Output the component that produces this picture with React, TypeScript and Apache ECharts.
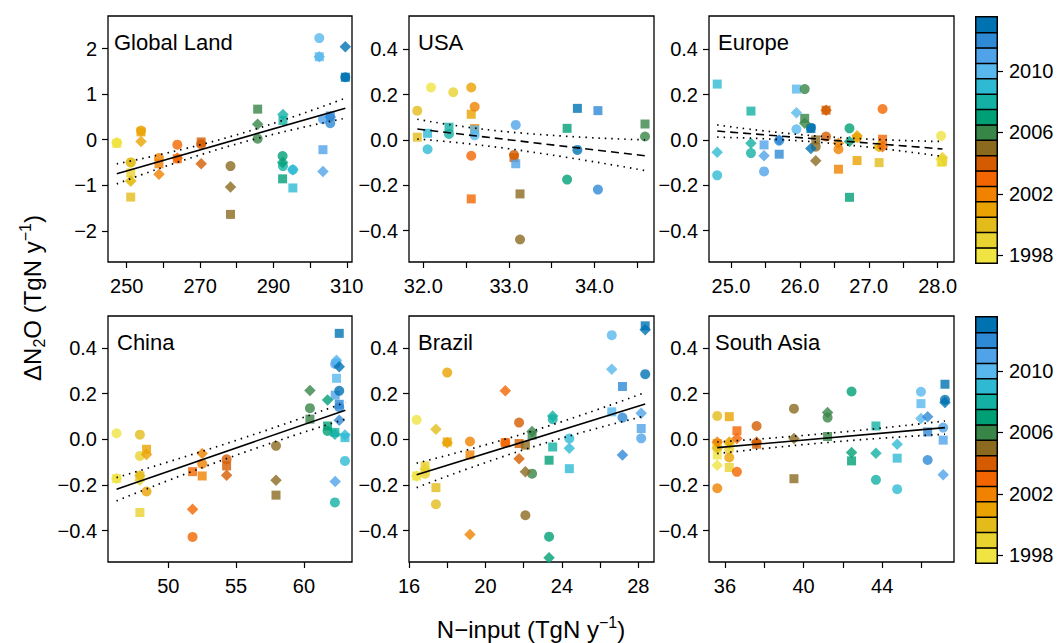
import React, { useEffect, useRef } from "react";
import * as echarts from "echarts";

const FONT = "'Liberation Sans', Arial, Helvetica, sans-serif";

const years = [1998, 1999, 2000, 2001, 2002, 2003, 2004, 2005, 2006, 2007, 2008, 2009, 2010, 2011, 2012, 2013];
const yearColors = ["#f0e442", "#e8d230", "#e3bb1a", "#e9a200", "#f08200", "#f26500", "#d45b00", "#8b6a1f", "#388548", "#00a077", "#13b0a4", "#2fbad4", "#58b8ee", "#50a2e9", "#2f8ad6", "#0072b2"];
const colorbarLabels = ["1998", "2002", "2006", "2010"];

// Global Land
const glX = [247.3, 251.1, 251.1, 253.9, 258.8, 263.8, 270.3, 278.3, 285.7, 292.5, 292.6, 295.3, 302.5, 303.5, 305.5, 309.6];
const glCircle = [-0.07, -0.5, -0.5, 0.2, -0.4, -0.11, -0.1, -0.58, 0.02, -0.36, -0.58, -0.66, 2.23, 0.45, 0.36, 1.37];
const glSquare = [-0.08, -0.73, -1.26, 0.17, -0.53, -0.42, -0.05, -1.64, 0.67, -0.86, 0.42, -1.06, 1.82, -0.22, 0.52, 1.37];
const glDiamond = [-0.06, -0.91, -0.91, -0.04, -0.76, -0.4, -0.53, -1.04, 0.34, -0.5, 0.55, -0.66, 1.82, -0.7, 0.5, 2.04];
const glFitX = [247.3, 309.6];
const glFitY = [-0.75, 0.69];
const glBandX = [247.3, 278, 309.6];
const glUpper = [-0.53, 0.06, 0.91];
const glLower = [-0.97, -0.14, 0.47];

// USA
const usX = [32.09, 32.35, 31.93, 32.56, 32.6, 32.56, 33.06, 33.13, 34.59, 33.68, 32.3, 32.05, 32.6, 33.08, 34.04, 33.8];
const usCircle = [0.231, 0.21, 0.129, 0.231, 0.146, -0.07, -0.066, -0.439, 0.015, -0.175, 0.026, -0.041, 0.02, 0.066, -0.219, -0.044];
const usSquare = [null, null, 0.012, 0.113, 0.05, -0.26, -0.078, -0.238, 0.07, 0.051, 0.056, 0.029, 0.044, -0.105, 0.129, 0.139];
const usDiamond = [null, null, null, null, null, null, null, null, null, null, null, null, null, null, null, null];
const usFitX = [31.93, 34.59];
const usFitY = [0.048, -0.07];
const usBandX = [31.93, 33.0, 34.59];
const usUpper = [0.091, 0.035, 0.0];
const usLower = [0.004, -0.039, -0.135];

// Europe
const euX = [28.05, 28.07, 27.15, 26.83, 26.56, 27.2, 26.38, 26.23, 26.07, 26.72, 25.29, 24.8, 25.95, 25.48, 25.7, 26.16];
const euCircle = [0.018, -0.09, -0.03, 0.01, -0.041, 0.136, 0.015, -0.03, 0.224, 0.051, -0.058, -0.156, 0.047, -0.139, -0.003, 0.054];
const euSquare = [-0.099, -0.095, -0.1, -0.091, -0.129, 0.003, 0.131, 0.0, 0.095, -0.253, 0.127, 0.246, 0.224, -0.022, -0.063, 0.05];
const euDiamond = [-0.085, -0.077, -0.03, 0.018, -0.015, -0.03, 0.131, -0.092, 0.073, -0.007, -0.015, -0.054, 0.12, -0.07, 0.0, -0.038];
const euFitX = [24.8, 28.07];
const euFitY = [0.039, -0.04];
const euBandX = [24.8, 26.3, 28.07];
const euUpper = [0.066, 0.016, -0.007];
const euLower = [0.012, -0.011, -0.073];

// China
const cnX = [46.19, 47.91, 47.91, 48.4, 52.5, 51.79, 54.3, 57.94, 60.44, 61.74, 62.28, 63.02, 62.4, 62.3, 62.6, 62.6];
const cnCircle = [0.026, -0.073, 0.02, -0.229, -0.107, -0.428, -0.088, -0.029, 0.136, 0.036, -0.277, -0.095, 0.336, 0.33, 0.14, 0.212];
const cnSquare = [-0.172, -0.321, -0.16, -0.044, -0.161, -0.142, -0.117, -0.245, 0.088, 0.058, 0.03, 0.007, 0.267, 0.193, 0.153, 0.464];
const cnDiamond = [-0.172, -0.18, -0.16, -0.067, -0.063, -0.307, -0.158, -0.18, 0.213, 0.172, 0.022, 0.018, 0.346, -0.185, 0.083, 0.318];
const cnFitX = [46.19, 63.05];
const cnFitY = [-0.219, 0.127];
const cnBandX = [46.19, 55, 63.05];
const cnUpper = [-0.168, -0.005, 0.161];
const cnLower = [-0.27, -0.07, 0.088];

// Brazil
const brX = [16.4, 16.84, 17.41, 18.0, 19.19, 21.04, 21.76, 22.09, 22.44, 23.33, 23.52, 24.39, 26.61, 28.15, 27.17, 28.36];
const brCircle = [0.085, -0.151, -0.285, 0.292, -0.01, -0.015, 0.073, -0.333, -0.151, -0.427, 0.088, 0.003, 0.456, 0.004, 0.095, 0.285];
const brSquare = [-0.161, -0.117, -0.212, -0.012, -0.069, -0.015, -0.019, -0.026, 0.018, -0.092, -0.034, -0.129, 0.12, 0.047, 0.231, 0.497];
const brDiamond = [-0.161, -0.13, 0.044, -0.015, -0.417, 0.212, -0.085, -0.142, 0.034, -0.519, 0.102, -0.039, 0.307, 0.114, -0.069, 0.48];
const brFitX = [16.4, 28.36];
const brFitY = [-0.156, 0.154];
const brBandX = [16.4, 22.5, 28.36];
const brUpper = [-0.105, 0.037, 0.205];
const brLower = [-0.212, -0.033, 0.102];

// South Asia
const saX = [35.61, 36.22, 35.61, 36.22, 35.61, 36.61, 37.61, 39.51, 41.22, 42.44, 43.68, 44.76, 45.97, 47.1, 46.31, 47.19];
const saCircle = [-0.03, -0.044, 0.102, -0.08, -0.215, -0.143, 0.058, 0.134, 0.095, 0.209, -0.178, -0.219, 0.208, 0.051, -0.091, 0.173];
const saSquare = [-0.069, -0.124, -0.03, 0.099, -0.019, 0.037, -0.022, -0.173, 0.012, -0.095, 0.058, -0.083, 0.156, -0.004, 0.032, 0.241];
const saDiamond = [-0.114, -0.02, -0.04, -0.012, -0.012, 0.003, -0.012, 0.003, 0.117, -0.058, -0.061, -0.022, 0.091, -0.156, 0.099, 0.161];
const saFitX = [35.61, 47.19];
const saFitY = [-0.037, 0.051];
const saBandX = [35.61, 41.5, 47.19];
const saUpper = [-0.012, 0.028, 0.08];
const saLower = [-0.063, -0.012, 0.022];

// axis ticks / labels
const glXTicks = [250, 260, 270, 280, 290, 300, 310];
const glXLabels = [250, 270, 290, 310];
const glYTicks = [-2, -1, 0, 1, 2];
const usXTicks = [32.0, 32.5, 33.0, 33.5, 34.0, 34.5];
const usXLabels = [32.0, 33.0, 34.0];
const euXTicks = [25.0, 25.5, 26.0, 26.5, 27.0, 27.5, 28.0];
const euXLabels = [25.0, 26.0, 27.0, 28.0];
const cnXTicks = [50, 55, 60];
const cnXLabels = [50, 55, 60];
const brXTicks = [16, 18, 20, 22, 24, 26, 28];
const brXLabels = [16, 20, 24, 28];
const saXTicks = [36, 38, 40, 42, 44, 46];
const saXLabels = [36, 40, 44];
const smallYTicks = [-0.4, -0.2, 0, 0.2, 0.4];

const panels = [
  { name: "Global Land", x: glX, c: glCircle, s: glSquare, d: glDiamond, fx: glFitX, fy: glFitY, bx: glBandX, up: glUpper, lo: glLower, dashed: false, xmin: 244.9, xmax: 311.42, ymin: -2.685, ymax: 2.714, xt: glXTicks, xl: glXLabels, yt: glYTicks, xd: 0, yd: 0 },
  { name: "USA", x: usX, c: usCircle, s: usSquare, d: usDiamond, fx: usFitX, fy: usFitY, bx: usBandX, up: usUpper, lo: usLower, dashed: true, xmin: 31.833, xmax: 34.695, ymin: -0.538, ymax: 0.546, xt: usXTicks, xl: usXLabels, yt: smallYTicks, xd: 1, yd: 1 },
  { name: "Europe", x: euX, c: euCircle, s: euSquare, d: euDiamond, fx: euFitX, fy: euFitY, bx: euBandX, up: euUpper, lo: euLower, dashed: true, xmin: 24.681, xmax: 28.237, ymin: -0.538, ymax: 0.546, xt: euXTicks, xl: euXLabels, yt: smallYTicks, xd: 1, yd: 1 },
  { name: "China", x: cnX, c: cnCircle, s: cnSquare, d: cnDiamond, fx: cnFitX, fy: cnFitY, bx: cnBandX, up: cnUpper, lo: cnLower, dashed: false, xmin: 45.56, xmax: 63.54, ymin: -0.538, ymax: 0.54, xt: cnXTicks, xl: cnXLabels, yt: smallYTicks, xd: 0, yd: 1 },
  { name: "Brazil", x: brX, c: brCircle, s: brSquare, d: brDiamond, fx: brFitX, fy: brFitY, bx: brBandX, up: brUpper, lo: brLower, dashed: false, xmin: 16.0, xmax: 28.82, ymin: -0.538, ymax: 0.54, xt: brXTicks, xl: brXLabels, yt: smallYTicks, xd: 0, yd: 1 },
  { name: "South Asia", x: saX, c: saCircle, s: saSquare, d: saDiamond, fx: saFitX, fy: saFitY, bx: saBandX, up: saUpper, lo: saLower, dashed: false, xmin: 35.19, xmax: 47.65, ymin: -0.538, ymax: 0.54, xt: saXTicks, xl: saXLabels, yt: smallYTicks, xd: 0, yd: 1 },
];

const colLeft = [108, 409, 709];
const colWidth = [244, 245, 245];
const rowTop = [16, 316];
const panelHeight = 246;

const fmt = (v: number, d: number) => {
  const s = Math.abs(v).toFixed(d);
  return (v < -1e-9 ? "\u2212" : "") + s;
};

function buildOption() {
  const grid: any[] = [];
  const xAxis: any[] = [];
  const yAxis: any[] = [];
  const series: any[] = [];
  const graphic: any[] = [];
  const heatmapIdx: number[] = [];

  panels.forEach((p, gi) => {
    const col = gi % 3;
    const row = Math.floor(gi / 3);
    grid.push({
      left: colLeft[col], top: rowTop[row], width: colWidth[col], height: panelHeight,
      show: true, borderColor: "#000", borderWidth: 1.3, backgroundColor: "rgba(0,0,0,0)",
    });
    xAxis.push({
      gridIndex: gi, type: "value", min: p.xmin, max: p.xmax, position: "bottom",
      axisLine: { show: false, onZero: false },
      splitLine: { show: false },
      axisTick: { show: true, inside: false, length: 6, lineStyle: { color: "#000", width: 1.2 }, customValues: p.xt },
      axisLabel: { customValues: p.xl, formatter: (v: number) => fmt(v, p.xd), color: "#000", fontSize: 20, fontFamily: FONT, margin: 14 },
    });
    yAxis.push({
      gridIndex: gi, type: "value", min: p.ymin, max: p.ymax, position: "left",
      axisLine: { show: false, onZero: false },
      splitLine: { show: false },
      axisTick: { show: true, inside: false, length: 6, lineStyle: { color: "#000", width: 1.2 }, customValues: p.yt },
      axisLabel: { customValues: p.yt, formatter: (v: number) => fmt(v, p.yd), color: "#000", fontSize: 20, fontFamily: FONT, margin: 11 },
    });

    const mk = (ys: (number | null)[], symbol: string, size: number) => ({
      type: "scatter", xAxisIndex: gi, yAxisIndex: gi, symbol, symbolSize: size, silent: true, z: 3,
      data: ys
        .map((y, i) => (y === null ? null : { value: [p.x[i], y], itemStyle: { color: yearColors[i] } }))
        .filter((v) => v !== null),
    });
    series.push(mk(p.s, "rect", 9));
    series.push(mk(p.c, "circle", 10));
    series.push(mk(p.d, "diamond", 11.5));

    series.push({
      type: "line", xAxisIndex: gi, yAxisIndex: gi, symbol: "none", silent: true, z: 5,
      data: p.fx.map((x, i) => [x, p.fy[i]]),
      lineStyle: { color: "#000", width: 1.6, type: p.dashed ? [8, 5] : "solid" },
    });
    [p.up, p.lo].forEach((band) => {
      series.push({
        type: "line", xAxisIndex: gi, yAxisIndex: gi, symbol: "none", silent: true, z: 5, smooth: true,
        data: p.bx.map((x, i) => [x, band[i]]),
        lineStyle: { color: "#000", width: 1.7, type: [1.5, 5] },
      });
    });

    graphic.push({
      type: "text",
      x: colLeft[col] + (gi === 0 ? 6 : gi === 5 ? 6 : 9),
      y: rowTop[row] + 26,
      style: { text: p.name, fontSize: 22, fontFamily: FONT, fill: "#000", align: "left", verticalAlign: "middle", textAlign: "left", textVerticalAlign: "middle" },
      z: 10,
    });
  });

  // colorbars
  [0, 1].forEach((r) => {
    const gi = grid.length;
    grid.push({ left: 976, top: rowTop[r] + 1, width: 21, height: 246, show: false });
    xAxis.push({ gridIndex: gi, type: "category", data: [""], show: false });
    yAxis.push({
      gridIndex: gi, type: "category", data: years.map(String), position: "right",
      axisLine: { show: false },
      splitLine: { show: false },
      axisTick: { show: true, inside: false, length: 6, alignWithLabel: true, interval: (i: number, v: string) => colorbarLabels.includes(v), lineStyle: { color: "#000", width: 1.2 } },
      axisLabel: { interval: (i: number, v: string) => colorbarLabels.includes(v), color: "#000", fontSize: 20, fontFamily: FONT, margin: 12 },
    });
    heatmapIdx.push(series.length);
    series.push({
      type: "heatmap", xAxisIndex: gi, yAxisIndex: gi, silent: true,
      data: years.map((y, i) => [0, i, y]),
      itemStyle: { borderColor: "#000", borderWidth: 1.5 },
      emphasis: { disabled: true },
    });
  });

  const visualMap = [{
    type: "piecewise", show: false, seriesIndex: heatmapIdx, dimension: 2,
    pieces: years.map((y, i) => ({ value: y, color: yearColors[i] })),
  }];

  const rich = {
    a: { fontSize: 24, fontFamily: FONT, color: "#000", lineHeight: 30 },
    sub: { fontSize: 16, fontFamily: FONT, color: "#000", verticalAlign: "bottom", lineHeight: 18 },
    sup: { fontSize: 16, fontFamily: FONT, color: "#000", verticalAlign: "top", lineHeight: 18 },
  };

  graphic.push({
    type: "text", x: 32, y: 298, rotation: Math.PI / 2, z: 10,
    style: {
      text: "{a|\u0394N}{sub|2}{a|O (TgN y}{sup|\u22121}{a|)}", rich, fill: "#000",
      align: "center", verticalAlign: "middle", textAlign: "center", textVerticalAlign: "middle",
    },
  });
  graphic.push({
    type: "text", x: 531, y: 629, z: 10,
    style: {
      text: "{a|N\u2212input (TgN y}{sup|\u22121}{a|)}", rich, fill: "#000",
      align: "center", verticalAlign: "middle", textAlign: "center", textVerticalAlign: "middle",
    },
  });

  return {
    animation: false,
    backgroundColor: "#fff",
    textStyle: { fontFamily: FONT },
    grid, xAxis, yAxis, series, graphic, visualMap,
  };
}

export default function App() {
  const ref = useRef<HTMLDivElement>(null);
  useEffect(() => {
    if (!ref.current) return;
    const chart = echarts.init(ref.current, undefined, { renderer: "svg" });
    chart.setOption(buildOption() as any);
    return () => chart.dispose();
  }, []);
  return <div ref={ref} style={{ position: "absolute", left: 0, top: 0, width: 1060, height: 643 }} />;
}
